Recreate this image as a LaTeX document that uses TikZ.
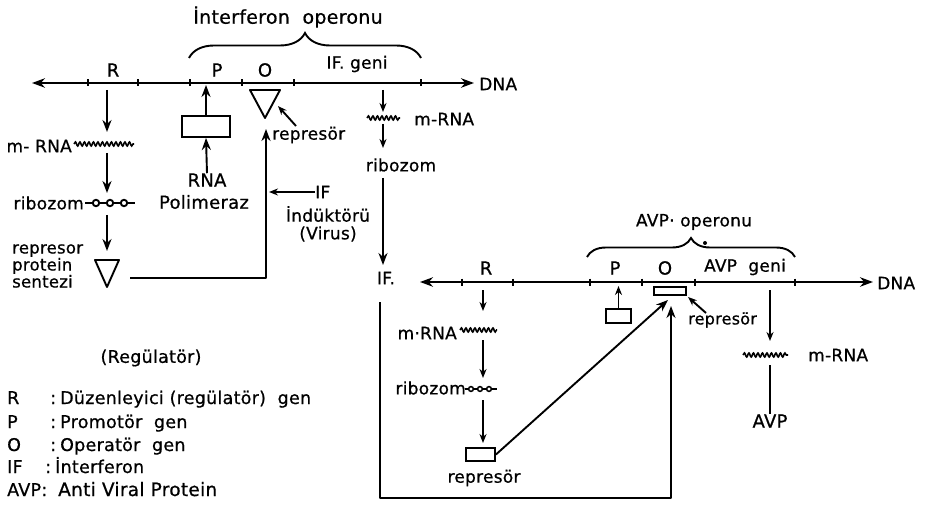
\documentclass[tikz,border=0pt]{standalone}
\usepackage{fontspec}
\setmainfont{DejaVu Sans}[LetterSpace=1.5,FakeBold=0.7]
\usetikzlibrary{arrows.meta,decorations.pathreplacing,decorations.pathmorphing}
\newcommand\fsz[1]{\fontsize{#1}{#1}\selectfont}
\tikzset{
  ln/.style={line width=1.9pt},
  arr/.style={ln,-{Stealth[length=12pt,width=9pt]}},
  sarr/.style={ln,-{Stealth[length=9pt,width=7pt]}},
  tickmark/.style={line width=2.6pt},
  lbl/.style={inner sep=0pt,font=\fsz{17}},
  lgd/.style={inner sep=0pt,font=\fsz{17.5},anchor=base west},
  wave/.style={ln,line width=1.6pt,decorate,decoration={snake,segment length=4.5pt,amplitude=2pt}},
  brc/.style={ln,decorate,decoration={brace,amplitude=#1}},
  dnaarr/.style={ln,{Stealth[length=13pt,width=9.5pt]}-{Stealth[length=13pt,width=9.5pt]}}
}
\begin{document}
\begin{tikzpicture}[x=1pt,y=-1pt]
\useasboundingbox (0,0) rectangle (929,513);

%% ---------- DNA 1 (interferon) ----------
\coordinate (d1L) at (32,83);
\coordinate (d1R) at (474,83);
\draw[dnaarr] (d1L) -- (d1R);
\node[lbl,anchor=west] (dna1) at (479,84) {DNA};
\foreach \x in {88,138,190,242,294,421} \draw[tickmark] (\x,79.5) -- (\x,86.5);
\node[lbl,font=\fsz{18}] (R1) at (113,70) {R};
\node[lbl,font=\fsz{18}] (P1) at (217,70) {P};
\node[lbl,font=\fsz{18}] (O1) at (265,70) {O};
\node[lbl] (IFg) at (357,64) {IF. geni};
\draw[brc=25pt] (189,58) -- (421,58);
\node[lbl,font=\fsz{19}] (ifop) at (288,17) {İnterferon\ \ operonu};

%% ---------- regulator branch (left) ----------
\coordinate (r1a) at (107,90);
\coordinate (r1b) at (107,132);
\draw[arr] (r1a) -- (r1b);
\node[lbl,anchor=east] (mrna1) at (72,146) {m- RNA};
\coordinate (w1a) at (74,144);
\coordinate (w1b) at (134,144);
\draw[wave] (w1a) -- (w1b);
\coordinate (r1c) at (107,153);
\coordinate (r1d) at (107,193);
\draw[arr] (r1c) -- (r1d);
\node[lbl,anchor=east] (rib1) at (84,203) {ribozom};
\coordinate (c1a) at (85,203);
\coordinate (c1b) at (135,203);
\draw[ln] (c1a) -- (c1b);
\foreach \x in {96,110,124} \draw[ln,fill=white] (\x,203) circle (3.2pt);
\coordinate (r1e) at (107,215);
\coordinate (r1f) at (107,251);
\draw[arr] (r1e) -- (r1f);
\coordinate (t1a) at (95,260);
\coordinate (t1b) at (119,260);
\coordinate (t1c) at (107,287);
\draw[ln,line join=round] (t1a) -- (t1b) -- (t1c) -- cycle;
\node[lbl,anchor=west,align=left,font=\fontsize{16.5}{17}\selectfont] (rps) at (12,266) {represor\\protein\\sentezi};

%% feedback line to operator
\coordinate (fb1) at (130,278);
\coordinate (fb2) at (266,278);
\coordinate (fb3) at (266,129);
\draw[arr,line join=round] (fb1) -- (fb2) -- (fb3);

%% ---------- RNA polymerase ----------
\node[draw,ln,minimum width=48pt,minimum height=21pt,inner sep=0pt] (pol1) at (206,126.5) {};
\coordinate (p1top) at (206,85);
\draw[arr] (pol1.north) -- (p1top);
\node[lbl,font=\fsz{18}] (rnaT) at (207,180) {RNA};
\node[lbl,font=\fsz{18}] (polT) at (204,202) {Polimeraz};
\draw[arr] (rnaT.north) -- (pol1.south);

%% ---------- operator triangle ----------
\coordinate (t2a) at (250,90);
\coordinate (t2b) at (280,90);
\coordinate (t2c) at (265,118);
\draw[ln,line join=round] (t2a) -- (t2b) -- (t2c) -- cycle;
\node[lbl,anchor=west] (rep1) at (272,135) {represör};
\coordinate (rp1a) at (296,126);
\coordinate (rp1b) at (278,106);
\draw[sarr] (rp1a) -- (rp1b);

%% ---------- IF inductor ----------
\node[lbl,anchor=west] (ifT) at (315,192) {IF};
\coordinate (ind) at (269,192);
\draw[sarr] (ifT.west) -- (ind);
\node[lbl] (indT) at (328,214) {İndüktörü};
\node[lbl] (virT) at (328,234) {(Virus)};

%% ---------- IF gene expression ----------
\coordinate (g1a) at (383,90);
\coordinate (g1b) at (383,112);
\draw[sarr] (g1a) -- (g1b);
\coordinate (w2a) at (367,118);
\coordinate (w2b) at (400,118);
\draw[wave] (w2a) -- (w2b);
\node[lbl,anchor=west] (mrna2) at (414,119) {m-RNA};
\coordinate (g1c) at (383,124);
\coordinate (g1d) at (383,148);
\draw[sarr] (g1c) -- (g1d);
\node[lbl] (rib2) at (401,165) {ribozom};
\node[lbl] (IFp) at (386,278) {IF.};
\coordinate (g1e) at (383,178);
\coordinate (g1f) at (383,265);
\draw[arr] (g1e) -- (g1f);

%% ---------- DNA 2 (AVP) ----------
\coordinate (d2L) at (420,282);
\coordinate (d2R) at (873,282);
\draw[dnaarr] (d2L) -- (d2R);
\node[lbl,anchor=west] (dna2) at (877,283) {DNA};
\foreach \x in {462,513,590,642,695,795} \draw[tickmark] (\x,278.5) -- (\x,285.5);
\node[lbl,font=\fsz{18}] (R2) at (486,268) {R};
\node[lbl,font=\fsz{18}] (P2) at (615,268) {P};
\node[lbl,font=\fsz{18}] (O2) at (665,268) {O};
\node[lbl] (AVPg) at (745,267) {AVP\ \ geni};
\draw[brc=19pt] (587,257) -- (795,257);
\node[lbl] (avpop) at (694,222) {AVP·\ operonu};
\fill (705,243) circle (2pt);

%% ---------- regulator branch (bottom) ----------
\coordinate (r2a) at (483,290);
\coordinate (r2b) at (483,311);
\draw[sarr] (r2a) -- (r2b);
\node[lbl,anchor=east] (mrna3) at (457,333) {m·RNA};
\coordinate (w3a) at (460,330);
\coordinate (w3b) at (497,330);
\draw[wave] (w3a) -- (w3b);
\coordinate (r2c) at (483,340);
\coordinate (r2d) at (483,378);
\draw[sarr] (r2c) -- (r2d);
\node[lbl,anchor=east] (rib3) at (466,388) {ribozom};
\coordinate (c3a) at (465,389);
\coordinate (c3b) at (497,389);
\draw[ln,line width=1.5pt] (c3a) -- (c3b);
\foreach \x in {471,480,489} \draw[ln,line width=1.5pt,fill=white] (\x,389) circle (2.4pt);
\coordinate (r2e) at (483,400);
\coordinate (r2f) at (483,443);
\draw[sarr] (r2e) -- (r2f);
\node[draw,ln,minimum width=29pt,minimum height=13pt,inner sep=0pt] (rep2box) at (480.5,454.5) {};
\node[lbl] (rep2) at (484,478) {represör};
\coordinate (opr2) at (668,300);
\draw[arr] (rep2box.east) -- (opr2);

%% P2 box
\node[draw,ln,minimum width=25pt,minimum height=14pt,inner sep=0pt] (pol2) at (618.5,316) {};
\coordinate (p2top) at (618.5,286);
\draw[sarr] (pol2.north) -- (p2top);

%% operator repressor box
\node[draw,ln,minimum width=32pt,minimum height=8pt,inner sep=0pt] (opbox) at (670,291) {};
\node[lbl,anchor=west,font=\fsz{16}] (rep3) at (688,320) {represör};
\coordinate (rp3a) at (706,313);
\coordinate (rp3b) at (688,297);
\draw[sarr] (rp3a) -- (rp3b);

%% IF loop
\coordinate (lp0) at (380,302);
\coordinate (lp1) at (380,498);
\coordinate (lp2) at (671,498);
\coordinate (lp3) at (671,306);
\draw[arr,line join=round] (lp0) -- (lp1) -- (lp2) -- (lp3);

%% AVP gene expression
\coordinate (a1) at (770,290);
\coordinate (a2) at (770,341);
\draw[sarr] (a1) -- (a2);
\coordinate (w4a) at (743,355);
\coordinate (w4b) at (788,355);
\draw[wave] (w4a) -- (w4b);
\node[lbl,anchor=west] (mrna4) at (808,355) {m-RNA};
\node[lbl,font=\fsz{18}] (avpT) at (770,421) {AVP};
\coordinate (a3) at (770,365);
\draw[ln] (a3) -- (avpT.north);

%% ---------- legend ----------
\node[lgd,anchor=center] (lgT) at (151,358) {(Regülatör)};
\node[lgd] (k1) at (7,404) {R};
\node[lgd] (c1) at (50,404) {:};
\node[lgd] (v1) at (60,404) {Düzenleyici (regülatör)\ \ gen};
\node[lgd] (k2) at (7,428) {P};
\node[lgd] (c2) at (50,428) {:};
\node[lgd] (v2) at (60,428) {Promotör\ \ gen};
\node[lgd] (k3) at (7,451) {O};
\node[lgd] (c3) at (50,451) {:};
\node[lgd] (v3) at (60,451) {Operatör\ \ gen};
\node[lgd] (k4) at (7,473) {IF};
\node[lgd] (c4) at (45,473) {:};
\node[lgd] (v4) at (55,473) {İnterferon};
\node[lgd] (k5) at (7,496) {AVP:};
\node[lgd,font=\fsz{18.5}] (v5) at (58,496) {Anti Viral Protein};
\end{tikzpicture}
\end{document}
